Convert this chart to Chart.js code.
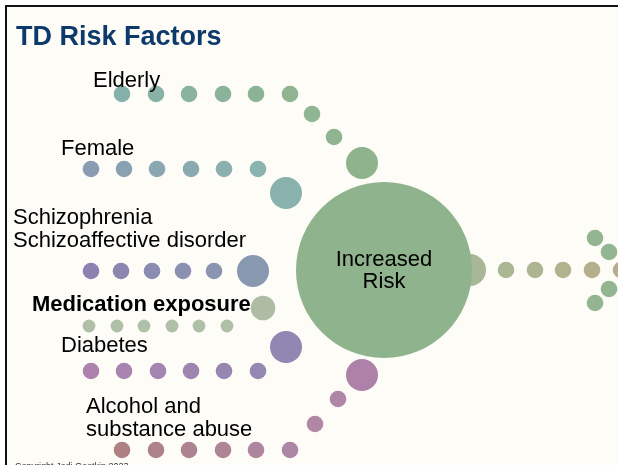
<!DOCTYPE html>
<html>
<head>
<meta charset="utf-8">
<script src="https://cdn.jsdelivr.net/npm/chart.js@4"></script>
<style>
  html, body { margin: 0; padding: 0; background: #ffffff; }
  #wrap { width: 618px; height: 465px; position: relative; }
</style>
</head>
<body>
<div id="wrap"><canvas id="riskChart" width="618" height="465"></canvas></div>
<script>
// dot paths, one per risk factor (x, y on a 618 x 465 grid, r = dot size)
const elderlyX = [122, 156, 189, 223, 256, 290, 312, 334, 362];
const elderlyY = [94, 94, 94, 94, 94, 94, 114, 137, 163];
const elderlyR = [8.3, 8.3, 8.3, 8.3, 8.3, 8.3, 8.3, 8.3, 16];

const femaleX = [91, 124, 157, 191, 224, 258, 286];
const femaleY = [169, 169, 169, 169, 169, 169, 193];
const femaleR = [8.3, 8.3, 8.3, 8.3, 8.3, 8.3, 16];

const schizoX = [91, 121, 152, 183, 214, 253];
const schizoY = [271, 271, 271, 271, 271, 271];
const schizoR = [8.3, 8.3, 8.3, 8.3, 8.3, 16];

const medicationX = [89, 117, 144, 172, 199, 227, 263];
const medicationY = [326, 326, 326, 326, 326, 326, 308];
const medicationR = [6.4, 6.4, 6.4, 6.4, 6.4, 6.4, 12.3];

const diabetesX = [91, 124, 158, 191, 224, 258, 286];
const diabetesY = [371, 371, 371, 371, 371, 371, 347];
const diabetesR = [8.3, 8.3, 8.3, 8.3, 8.3, 8.3, 16];

const alcoholX = [122, 156, 189, 223, 256, 290, 315, 338, 362];
const alcoholY = [450, 450, 450, 450, 450, 450, 424, 399, 375];
const alcoholR = [8.3, 8.3, 8.3, 8.3, 8.3, 8.3, 8.3, 8.3, 16];

const centerX = [384];
const centerY = [270];
const centerR = [88];

const outflowX = [470, 506, 535, 563, 592, 621];
const outflowY = [270, 270, 270, 270, 270, 270];
const outflowR = [16, 8.3, 8.3, 8.3, 8.3, 8.3];

const arrowX = [595, 609, 609, 595];
const arrowY = [238, 252, 289, 303];
const arrowR = [8.3, 8.3, 8.3, 8.3];

const factorLabels = [
    { lines: ["Elderly"], x: 93, y: 87, bold: false },
    { lines: ["Female"], x: 61, y: 155, bold: false },
    { lines: ["Schizophrenia", "Schizoaffective disorder"], x: 13, y: 224, bold: false },
    { lines: ["Medication exposure"], x: 32, y: 311, bold: true },
    { lines: ["Diabetes"], x: 61, y: 352, bold: false },
    { lines: ["Alcohol and", "substance abuse"], x: 86, y: 413, bold: false },
];
const centerLabel = ["Increased", "Risk"];
const titleText = "TD Risk Factors";
const copyrightText = "Copyright Jodi Gootkin 2023";

const points = (xs, ys, rs) => xs.map((x, i) => ({ x: x, y: ys[i], r: rs[i] }));

const hex = (c) => [1, 3, 5].map((i) => parseInt(c.substr(i, 2), 16));
const fade = (from, to, n) => {
    const a = hex(from), b = hex(to);
    const out = [];
    for (let i = 0; i < n; i++) {
        const t = n > 1 ? i / (n - 1) : 0;
        const c = a.map((v, k) => Math.round(v + (b[k] - v) * t));
        out.push(`rgb(${c[0]},${c[1]},${c[2]})`);
    }
    return out;
};

const dotSet = (data, colors, order) => ({
    data: data,
    backgroundColor: colors,
    borderWidth: 0,
    hoverBorderWidth: 0,
    hoverRadius: 0,
    clip: false,
    order: order,
});

const slideDecor = {
    id: "slideDecor",
    beforeDraw(chart) {
        const c = chart.ctx;
        c.save();
        c.fillStyle = "#ffffff";
        c.fillRect(0, 0, chart.width, chart.height);
        c.fillStyle = "#fdfcf7";
        c.fillRect(6, 6, chart.width - 6, chart.height - 6);
        c.fillStyle = "#111111";
        c.fillRect(5, 5, chart.width - 5, 2);
        c.fillRect(5, 5, 2, chart.height - 5);
        c.restore();
    },
    afterDraw(chart) {
        const c = chart.ctx;
        const sx = chart.scales.x, sy = chart.scales.y;
        c.save();
        c.textBaseline = "alphabetic";
        c.fillStyle = "#0d3a6b";
        c.font = "bold 27px 'Liberation Sans', Arial, sans-serif";
        c.textAlign = "left";
        c.fillText(titleText, sx.getPixelForValue(16), sy.getPixelForValue(45));

        c.fillStyle = "#000000";
        factorLabels.forEach((lab) => {
            c.font = (lab.bold ? "bold " : "") + "22px 'Liberation Sans', Arial, sans-serif";
            lab.lines.forEach((ln, i) => {
                c.fillText(ln, sx.getPixelForValue(lab.x), sy.getPixelForValue(lab.y + i * 23));
            });
        });

        c.textAlign = "center";
        c.font = "22px 'Liberation Sans', Arial, sans-serif";
        centerLabel.forEach((ln, i) => {
            c.fillText(ln, sx.getPixelForValue(centerX[0]), sy.getPixelForValue(266 + i * 22));
        });

        c.textAlign = "left";
        c.fillStyle = "#333333";
        c.font = "9px 'Liberation Sans', Arial, sans-serif";
        c.fillText(copyrightText, sx.getPixelForValue(15), sy.getPixelForValue(469));
        c.restore();
    },
};

new Chart(document.getElementById("riskChart"), {
    type: "bubble",
    data: {
        datasets: [
            dotSet(points(centerX, centerY, centerR), ["#8fb38c"], 1),
            dotSet(points(outflowX, outflowY, outflowR),
                ["#a8b795", "#abb793", "#adb590", "#b0b38e", "#b5af8e", "#b6ad8e"], 5),
            dotSet(points(arrowX, arrowY, arrowR), ["#94b591", "#94b591", "#94b591", "#94b591"], 2),
            dotSet(points(elderlyX, elderlyY, elderlyR),
                fade("#86b1ab", "#8eb491", 6).concat(["#8fb592", "#8fb48f", "#8fb48d"]), 2),
            dotSet(points(femaleX, femaleY, femaleR),
                fade("#8a9cb3", "#8bb4ae", 6).concat(["#8ab2ad"]), 2),
            dotSet(points(schizoX, schizoY, schizoR),
                fade("#8c82b1", "#8a96b1", 5).concat(["#8798b0"]), 2),
            dotSet(points(medicationX, medicationY, medicationR),
                fade("#b0c0a8", "#b0bfa7", 6).concat(["#aebca3"]), 2),
            dotSet(points(diabetesX, diabetesY, diabetesR),
                fade("#ad83ad", "#9487b1", 6).concat(["#9286b3"]), 2),
            dotSet(points(alcoholX, alcoholY, alcoholR),
                fade("#ad8183", "#ae86a5", 6).concat(["#b088a3", "#af86a5", "#ae82a8"]), 2),
        ],
    },
    options: {
        responsive: false,
        animation: false,
        events: [],
        layout: { padding: 0, autoPadding: false },
        plugins: {
            legend: { display: false },
            tooltip: { enabled: false },
        },
        scales: {
            x: { type: "linear", min: 0, max: 618, display: false },
            y: { type: "linear", min: 0, max: 465, reverse: true, display: false },
        },
    },
    plugins: [slideDecor],
});
</script>
</body>
</html>
